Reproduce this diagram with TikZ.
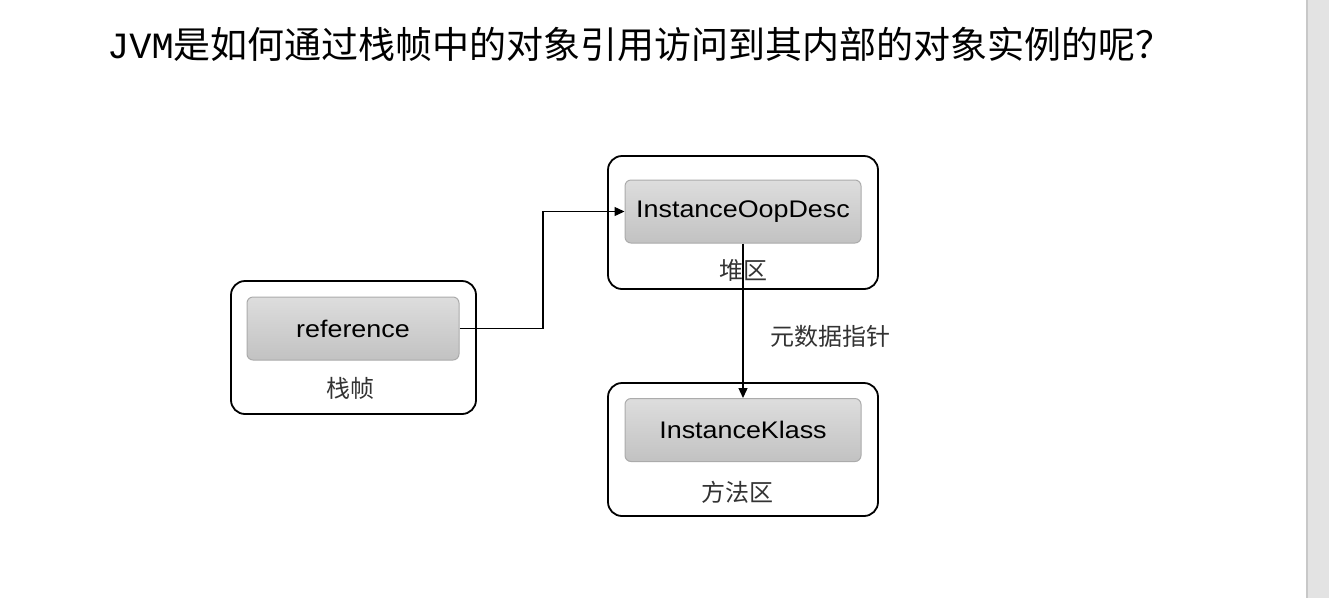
\documentclass[tikz,border=0pt]{standalone}
\usepackage{fontspec}
\setmainfont{Liberation Sans}
\newfontfamily\cjk{Noto Sans CJK SC}
\newfontfamily\lab[FakeStretch=1.12]{Liberation Sans}
\newfontfamily\monof{Liberation Mono}
\usetikzlibrary{arrows.meta}
\definecolor{strip}{HTML}{E3E3E3}
\definecolor{stripedge}{HTML}{C8C8C8}
\definecolor{innertop}{HTML}{DDDDDD}
\definecolor{innerbot}{HTML}{C2C2C2}
\definecolor{innerborder}{HTML}{ABABAB}
\definecolor{zonetext}{HTML}{333333}
\begin{document}
\begin{tikzpicture}[x=1pt,y=-1pt,
  outerbox/.style={draw=black,line width=1.8pt,rounded corners=14pt,minimum width=#1,minimum height=133pt,inner sep=0pt},
  innerbox/.style={draw=innerborder,line width=1pt,rounded corners=6pt,top color=innertop,bottom color=innerbot,minimum width=#1,minimum height=63pt,inner sep=0pt,font=\lab\fontsize{24}{28}\selectfont},
  zone/.style={font=\cjk\fontsize{24}{28}\selectfont,inner sep=0pt,text=zonetext},
  conn/.style={draw=black,line width=1.3pt,-{Triangle[length=10pt,width=9pt]}}
]
\useasboundingbox (0,0) rectangle (1329,598);
\fill[white] (0,0) rectangle (1329,598);
\fill[strip] (1306,0) rectangle (1329,598);
\draw[stripedge,line width=2pt] (1307,0) -- (1307,598);

\node[anchor=base west,inner sep=0pt] (title) at (107,58)
  {{\monof\fontsize{37}{40}\selectfont JVM}{\cjk\fontsize{37}{40}\selectfont 是如何通过栈帧中的对象引用访问到其内部的对象实例的呢？}};

% stack frame
\node[outerbox=245pt] (stack) at (353.5,347.5) {};
\node[innerbox=212pt] (ref) at (353,328.5) {reference};
\node[zone] (stacklab) at (350,388) {栈帧};

% heap
\node[outerbox=270pt] (heap) at (743,222.5) {};
\node[innerbox=236pt] (oop) at (743,211.5) {InstanceOopDesc};
\node[zone] (heaplab) at (743,270) {堆区};

% method area
\node[outerbox=270pt] (meth) at (743,449.5) {};
\node[innerbox=236pt] (klass) at (743,430) {InstanceKlass};
\node[zone] (methlab) at (737,492) {方法区};

% connectors
\coordinate (bend1) at (543,328.5);
\coordinate (bend2) at (543,211.5);
\draw[conn] (ref.east) -- (bend1) -- (bend2) -- (oop.west);
\draw[conn] (oop.south) -- (klass.north) node[pos=0.6,right=27pt,zone] (ptr) {元数据指针};
\end{tikzpicture}
\end{document}
